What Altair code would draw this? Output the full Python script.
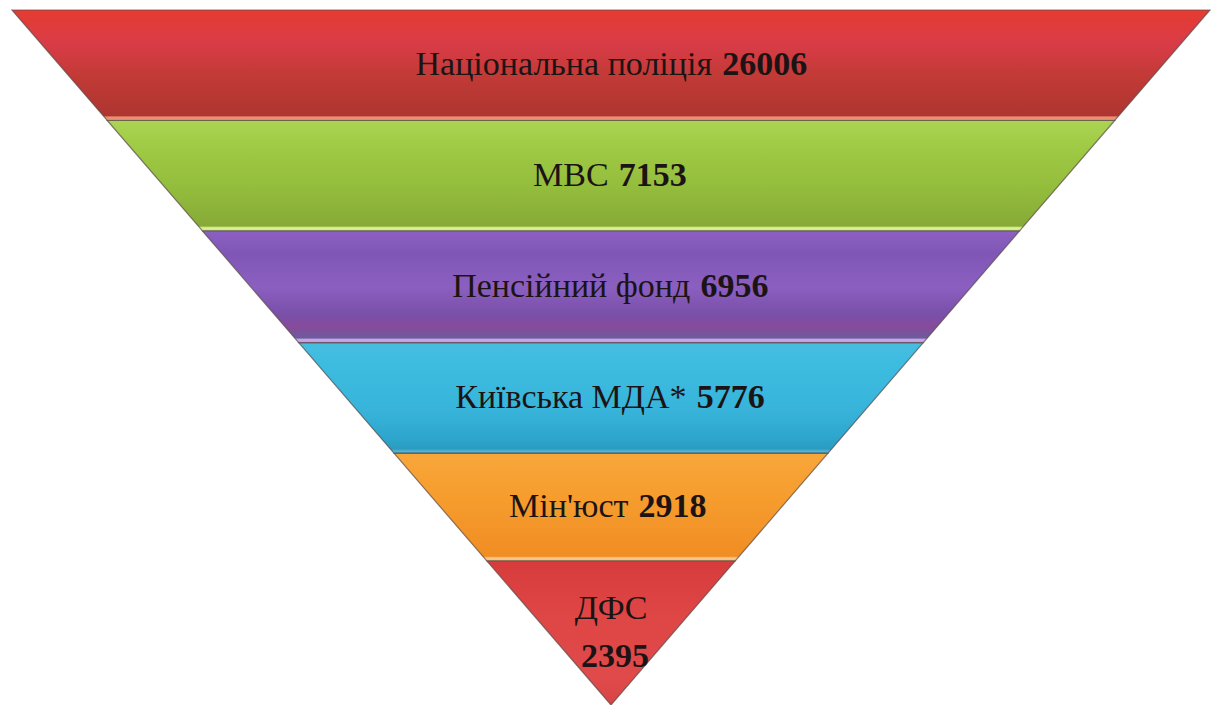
import altair as alt
import pandas as pd

# ---- data ----
categories = ["Національна поліція", "МВС", "Пенсійний фонд", "Київська МДА*", "Мін'юст", "ДФС"]
values = [26006, 7153, 6956, 5776, 2918, 2395]
# layout: depth of band boundaries inside the inverted triangle (0 = top, 1 = apex)
band_edges = [0.0, 0.159, 0.318, 0.479, 0.638, 0.793, 1.0]
stacked = [False, False, False, False, False, True]

# ---- style ----
palettes = [
    [("#e63b31", 0.0), ("#d93c47", 0.3), ("#c23a36", 0.6), ("#ae3530", 0.955), ("#ec9274", 0.97), ("#e98c6f", 0.99), ("#c06a58", 1.0)],
    [("#aad452", 0.0), ("#9dc842", 0.3), ("#92bb3c", 0.65), ("#87aa37", 0.955), ("#daf294", 0.97), ("#d2ec8a", 0.99), ("#a8c070", 1.0)],
    [("#8c60c2", 0.0), ("#7f56b5", 0.2), ("#8a5fc0", 0.5), ("#7a4fa8", 0.75), ("#874a9b", 0.86), ("#6c5b9c", 0.955), ("#c8a8e8", 0.97), ("#c0a0e0", 0.99), ("#9a80b8", 1.0)],
    [("#46bde0", 0.0), ("#3cbce0", 0.2), ("#38b4da", 0.6), ("#2ea6cd", 0.85), ("#2a9cc0", 0.96), ("#5ab4d4", 0.98), ("#3a9ac0", 1.0)],
    [("#f8a63a", 0.0), ("#f69d2e", 0.4), ("#f08d23", 0.955), ("#fcc788", 0.97), ("#fbc080", 0.99), ("#d8985a", 1.0)],
    [("#d63c3b", 0.0), ("#df4646", 0.4), ("#e04a4a", 0.8), ("#d84444", 1.0)],
]
FONT = "Liberation Serif"
FS = 34
W, H = 1205, 697
x_dom = [-1.00668, 1.00501]
y_dom = [-0.00288, 1.0]
px_per_u = W / (x_dom[1] - x_dom[0])
px_per_d = H / (y_dom[1] - y_dom[0])

xscale = alt.Scale(domain=x_dom, nice=False, zero=False)
yscale = alt.Scale(domain=y_dom, nice=False, zero=False, reverse=True)

# approximate Times/Liberation Serif advance widths (em)
cw = {" ": 0.25, "'": 0.18, "*": 0.5, "і": 0.278, "ї": 0.278, "а": 0.444, "е": 0.444, "с": 0.444,
      "о": 0.5, "р": 0.5, "д": 0.5, "л": 0.5, "я": 0.5, "к": 0.49, "т": 0.45, "в": 0.47,
      "ь": 0.46, "ф": 0.65, "ю": 0.72, "м": 0.6, "ш": 0.74, "щ": 0.74}


def text_width(s):
    w = 0.0
    for ch in s:
        if ch in cw:
            w += cw[ch]
        elif ch.isupper():
            w += 0.72
        else:
            w += 0.53
    return w * FS


layers = []
text_rows = []
for i, (cat, val) in enumerate(zip(categories, values)):
    top, bot = band_edges[i], band_edges[i + 1]
    band = pd.DataFrame({
        "depth": [top, bot],
        "xl": [-(1 - top), -(1 - bot)],
        "xr": [(1 - top), (1 - bot)],
    })
    grad = alt.Gradient(
        gradient="linear", x1=0, x2=0, y1=0, y2=1,
        stops=[alt.GradientStop(color=c, offset=o) for c, o in palettes[i]],
    )
    layers.append(
        alt.Chart(band).mark_area(orient="horizontal", interpolate="linear", fill=grad,
                                  stroke="#5a4a4a", strokeWidth=1.2, strokeOpacity=0.7)
        .encode(
            y=alt.Y("depth:Q", scale=yscale, axis=None),
            x=alt.X("xl:Q", scale=xscale, axis=None),
            x2="xr:Q",
        )
    )
    mid = (top + bot) / 2
    num = str(val)
    if stacked[i]:
        gap_d = 48 / px_per_d
        text_rows.append({"t": cat, "x": 0.0, "d": mid - gap_d / 2, "w": "normal", "a": "center"})
        text_rows.append({"t": num, "x": 4 / px_per_u, "d": mid + gap_d / 2, "w": "bold", "a": "center"})
    else:
        wn = text_width(cat)
        wv = 0.5 * FS * len(num)
        sp = 0.3 * FS
        total = wn + sp + wv
        left = -total / 2
        text_rows.append({"t": cat, "x": (left + wn) / px_per_u, "d": mid, "w": "normal", "a": "right"})
        text_rows.append({"t": num, "x": (left + wn + sp) / px_per_u, "d": mid, "w": "bold", "a": "left"})

tdf = pd.DataFrame(text_rows)
for weight in ["normal", "bold"]:
    for align in ["left", "right", "center"]:
        sub = tdf[(tdf.w == weight) & (tdf.a == align)]
        if len(sub) == 0:
            continue
        layers.append(
            alt.Chart(sub).mark_text(font=FONT, fontSize=FS, fontWeight=weight, align=align,
                                     baseline="middle", color="#1c1414")
            .encode(
                x=alt.X("x:Q", scale=xscale, axis=None),
                y=alt.Y("d:Q", scale=yscale, axis=None),
                text="t:N",
            )
        )

chart = alt.layer(*layers).properties(
    width=W, height=H, padding=0, autosize=alt.AutoSizeParams(type="none"), background="white"
).configure_view(stroke=None)

chart.save("out.html", embed_options={"renderer": "svg", "actions": False})
